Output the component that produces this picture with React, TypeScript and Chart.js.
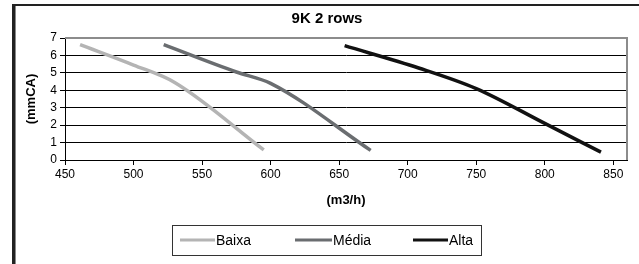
import React, { useEffect, useRef } from "react";
import { Chart, registerables } from "chart.js";

Chart.register(...registerables);

const chartTitle = "9K 2 rows";
const xAxisTitle = "(m3/h)";
const yAxisTitle = "(mmCA)";
const seriesNames = ["Baixa", "Média", "Alta"];
const seriesColors = ["#b4b4b4", "#6a6d70", "#111111"];

const baixaX = [461, 500, 530, 595];
const baixaY = [6.62, 5.45, 4.45, 0.58];
const mediaX = [522, 575, 600, 673];
const mediaY = [6.62, 5.05, 4.4, 0.55];
const altaX = [654, 708, 750, 800, 841];
const altaY = [6.56, 5.28, 4.1, 2.1, 0.45];

const xTicks = [450, 500, 550, 600, 650, 700, 750, 800, 850];
const yTicks = [0, 1, 2, 3, 4, 5, 6, 7];

const FONT = "'Liberation Sans', Arial, sans-serif";

function toPoints(xs: number[], ys: number[]) {
  return xs.map((x, i) => ({ x, y: ys[i] }));
}

const decorPlugin = {
  id: "decor",
  beforeDraw(chart: any) {
    const ctx = chart.ctx;
    ctx.save();
    ctx.fillStyle = "#fff";
    ctx.fillRect(0, 0, chart.width, chart.height);
    ctx.fillStyle = "#222";
    ctx.fillRect(12, 4, 3, 400);
    ctx.fillRect(12, 4, 700, 2);
    ctx.fillStyle = "#8a8a8a";
    ctx.fillRect(15, 6, 1, 400);
    ctx.restore();
  },
  afterDraw(chart: any) {
    const ctx = chart.ctx;
    const a = chart.chartArea;
    ctx.save();
    ctx.strokeStyle = "#8c8c8c";
    ctx.lineWidth = 2;
    ctx.beginPath();
    ctx.moveTo(a.left, a.top);
    ctx.lineTo(a.right, a.top);
    ctx.lineTo(a.right, a.bottom);
    ctx.stroke();
    ctx.fillStyle = "#000";
    ctx.textAlign = "center";
    ctx.textBaseline = "middle";
    ctx.font = "bold 15px " + FONT;
    ctx.fillText(chartTitle, 327, 19);
    ctx.font = "bold 13px " + FONT;
    ctx.fillText(xAxisTitle, (a.left + a.right) / 2, 200);
    ctx.save();
    ctx.translate(31, (a.top + a.bottom) / 2);
    ctx.rotate(-Math.PI / 2);
    ctx.fillText(yAxisTitle, 0, 0);
    ctx.restore();
    ctx.strokeStyle = "#333";
    ctx.lineWidth = 1;
    ctx.strokeRect(172.5, 225.5, 309, 30);
    const lineStarts = [180, 295, 413];
    const lineLens = [35, 37, 35];
    const ly = 240;
    ctx.textAlign = "left";
    ctx.font = "14px " + FONT;
    chart.data.datasets.forEach((ds: any, i: number) => {
      ctx.strokeStyle = ds.borderColor;
      ctx.lineWidth = 3;
      ctx.beginPath();
      ctx.moveTo(lineStarts[i], ly);
      ctx.lineTo(lineStarts[i] + lineLens[i], ly);
      ctx.stroke();
      ctx.fillStyle = "#000";
      ctx.fillText(ds.label, lineStarts[i] + lineLens[i] + 1, ly + 1);
    });
    ctx.restore();
  },
};

export default function App() {
  const ref = useRef<HTMLCanvasElement | null>(null);
  useEffect(() => {
    if (!ref.current) return;
    const chart = new Chart(ref.current, {
      type: "line",
      data: {
        datasets: [
          { label: seriesNames[0], data: toPoints(baixaX, baixaY), borderColor: seriesColors[0] },
          { label: seriesNames[1], data: toPoints(mediaX, mediaY), borderColor: seriesColors[1] },
          { label: seriesNames[2], data: toPoints(altaX, altaY), borderColor: seriesColors[2] },
        ].map((d) => ({
          ...d,
          borderWidth: 3.5,
          pointRadius: 0,
          fill: false,
          cubicInterpolationMode: "monotone" as const,
          borderCapStyle: "butt" as const,
        })),
      },
      options: {
        animation: false,
        responsive: false,
        layout: { padding: { left: 40, right: 12, top: 38, bottom: 84 } },
        plugins: {
          legend: { display: false },
          title: { display: false },
          tooltip: { enabled: false },
        },
        scales: {
          x: {
            type: "linear",
            min: 450,
            max: 860,
            afterBuildTicks: (scale: any) => {
              scale.ticks = xTicks.map((v) => ({ value: v }));
            },
            afterFit: (scale: any) => {
              scale.height = 20;
            },
            grid: {
              drawOnChartArea: false,
              drawTicks: true,
              tickLength: 5,
              tickColor: "#000",
            },
            border: { display: true, color: "#000", width: 1 },
            ticks: {
              color: "#000",
              font: { family: FONT, size: 12 },
              padding: 2,
              maxRotation: 0,
              autoSkip: false,
            },
          },
          y: {
            type: "linear",
            min: 0,
            max: 7,
            afterBuildTicks: (scale: any) => {
              scale.ticks = yTicks.map((v) => ({ value: v }));
            },
            afterFit: (scale: any) => {
              scale.width = 25;
            },
            grid: {
              color: (c: any) => (c.tick && c.tick.value === 7 ? "rgba(0,0,0,0)" : "#000"),
              drawTicks: true,
              tickLength: 5,
              tickColor: "#000",
            },
            border: { display: true, color: "#000", width: 1 },
            ticks: {
              color: "#000",
              font: { family: FONT, size: 12 },
              padding: 3,
            },
          },
        },
      },
      plugins: [decorPlugin],
    });
    return () => chart.destroy();
  }, []);
  return (
    <div style={{ position: "fixed", left: 0, top: 0, width: 639, height: 264, background: "#fff" }}>
      <canvas ref={ref} width={639} height={264} style={{ display: "block", width: 639, height: 264 }} />
    </div>
  );
}
